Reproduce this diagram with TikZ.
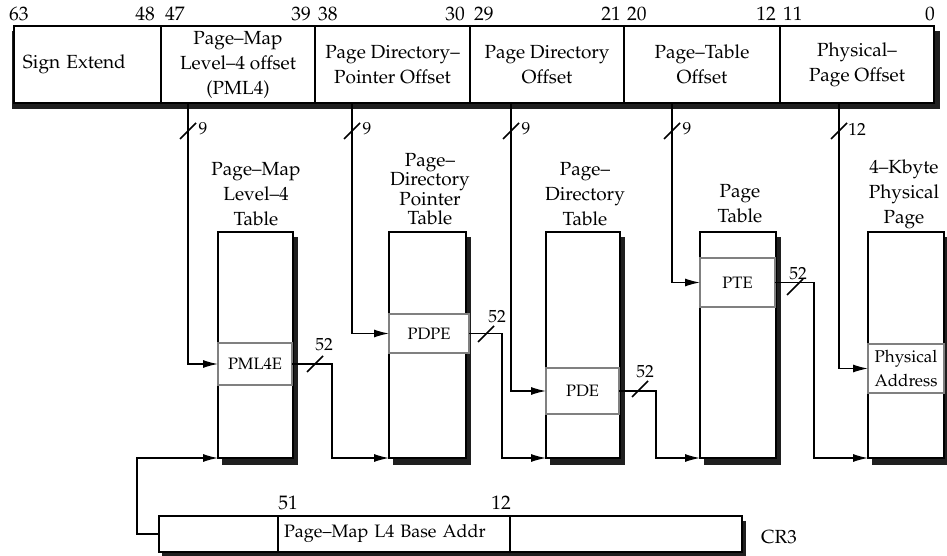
\documentclass[tikz,border=0pt]{standalone}
\usepackage[T1]{fontenc}
\usepackage{mathpazo}
\usetikzlibrary{arrows.meta,backgrounds}
\newcommand\fbig{\fontsize{19}{25}\selectfont}
\newcommand\ftight{\fontsize{19}{19.5}\selectfont}
\newcommand\fent{\fontsize{16.5}{23}\selectfont}
\newcommand\fnum{\fontsize{19.5}{22}\selectfont}
\newcommand\fsmall{\fontsize{17.5}{20}\selectfont}
\newcommand\fphys{\fontsize{17}{24}\selectfont}
\newcommand\faddr{\fontsize{18}{20}\selectfont}
\begin{document}
\begin{tikzpicture}[x=1pt,y=-1pt]
\tikzset{
 fld/.style={draw, line width=1.2pt, fill=white, inner sep=0pt, outer sep=0pt, align=center, font=\fbig},
 tbl/.style={draw, line width=1.3pt, fill=white, inner sep=0pt, outer sep=0pt},
 ent/.style={draw=black!50, line width=1.4pt, fill=white, inner sep=0pt, outer sep=0pt, align=center, font=\fent},
 shd/.style={fill=black!88},
 conn/.style={line width=1.3pt, -{Latex[length=15pt,width=8pt]}},
 slashmark/.style={line width=1.6pt},
 bitnum/.style={font=\fnum, inner sep=0pt},
 lbl/.style={font=\fsmall, inner sep=0pt},
 ttl/.style={align=center, font=\fbig, inner sep=0pt},
}
\useasboundingbox (0,0) rectangle (947,556);
% ---- virtual address bar
\node[fld, minimum width=147pt, minimum height=77pt, text width=137pt, align=left] (f0) at (87.5,64.5) {\hspace*{4pt}Sign Extend};
\node[fld, minimum width=154pt, minimum height=77pt] (f1) at (238,64.5) {Page--Map\\Level--4 offset\\(PML4)};
\node[fld, minimum width=155pt, minimum height=77pt] (f2) at (392.5,64.5) {Page Directory--\\Pointer Offset};
\node[fld, minimum width=154pt, minimum height=77pt] (f3) at (547,64.5) {Page Directory\\Offset};
\node[fld, minimum width=156pt, minimum height=77pt] (f4) at (702,64.5) {Page--Table\\Offset};
\node[fld, minimum width=154pt, minimum height=77pt] (f5) at (857,64.5) {Physical--\\Page Offset};
% bit numbers
\node[bitnum, anchor=base west] (b63) at ([shift={(-5,-5)}]f0.north west) {63};
\node[bitnum, anchor=base east] (b48) at ([shift={(-6,-5)}]f0.north east) {48};
\node[bitnum, anchor=base west] (b47) at ([shift={(4,-5)}]f1.north west) {47};
\node[bitnum, anchor=base east] (b39) at ([shift={(-4,-5)}]f1.north east) {39};
\node[bitnum, anchor=base west] (b38) at ([shift={(3,-5)}]f2.north west) {38};
\node[bitnum, anchor=base east] (b30) at ([shift={(-5,-5)}]f2.north east) {30};
\node[bitnum, anchor=base west] (b29) at ([shift={(4,-5)}]f3.north west) {29};
\node[bitnum, anchor=base east] (b21) at ([shift={(-3,-5)}]f3.north east) {21};
\node[bitnum, anchor=base west] (b20) at ([shift={(3,-5)}]f4.north west) {20};
\node[bitnum, anchor=base east] (b12) at ([shift={(-4,-5)}]f4.north east) {12};
\node[bitnum, anchor=base west] (b11) at ([shift={(3,-5)}]f5.north west) {11};
\node[bitnum, anchor=base east] (b0) at ([shift={(1,-5)}]f5.north east) {0};
% ---- tables
\node[tbl, minimum width=75pt, minimum height=226pt] (t1) at (255.5,345) {};
\node[tbl, minimum width=77pt, minimum height=226pt] (t2) at (427.5,345) {};
\node[tbl, minimum width=74pt, minimum height=226pt] (t3) at (583,345) {};
\node[tbl, minimum width=76pt, minimum height=226pt] (t4) at (738,345) {};
\node[tbl, minimum width=76pt, minimum height=226pt] (t5) at (906,345) {};
% titles
\node[ttl] (h1) at (256,194) {Page--Map\\Level--4\\Table};
\node[ttl, font=\ftight] (h2) at (430,189) {Page--\\Directory\\Pointer\\Table};
\node[ttl] (h3) at (585,194) {Page--\\Directory\\Table};
\node[ttl] (h4) at (740,204) {Page\\Table};
\node[ttl] (h5) at (904,194) {4--Kbyte\\Physical\\Page};
% entries
\node[ent, minimum width=74pt, minimum height=42pt] (e1) at (255,364) {PML4E};
\node[ent, minimum width=80pt, minimum height=39pt] (e2) at (429,333.5) {PDPE};
\node[ent, minimum width=73pt, minimum height=46pt] (e3) at (582.5,391) {PDE};
\node[ent, minimum width=75pt, minimum height=49pt] (e4) at (737.5,282.5) {PTE};
\node[ent, minimum width=76pt, minimum height=49pt, font=\fphys, text width=72pt] (e5) at (906,368.5) {Physical\\Address};
% ---- CR3
\node[fld, minimum width=119pt, minimum height=36pt] (c0) at (218.5,534) {};
\node[fld, minimum width=232pt, minimum height=36pt, text width=220pt, align=left, font=\faddr] (c1) at (394,534) {Page--Map L4 Base Addr};
\node[fld, minimum width=232pt, minimum height=36pt] (c2) at (626,534) {};
\node[lbl, font=\fnum] (n51) at ([shift={(10,-13)}]c1.north west) {51};
\node[lbl, font=\fnum] (n12) at ([shift={(-9,-13)}]c1.north east) {12};
\node[font=\fbig, anchor=west, inner sep=0pt] (cr3) at ([shift={(19,3)}]c2.east) {CR3};
% ---- shadows
\begin{scope}[on background layer]
\fill[shd] ([shift={(-2,5)}]f0.north west) rectangle ([shift={(6,6)}]f5.south east);
\foreach \t in {t1,t2,t3,t4,t5}{
  \fill[shd] ([shift={(4,5)}]\t.north west) rectangle ([shift={(5,7)}]\t.south east);
}
\fill[shd] ([shift={(3,5)}]c0.north west) rectangle ([shift={(4,4)}]c2.south east);
\end{scope}
% ---- connectors from the address bar
\draw[conn] (f1.south west) ++(27,0) |- (e1.west);
\draw[conn] (f2.south west) ++(37,0) |- (e2.west);
\draw[conn] (f3.south west) ++(41,0) |- (e3.west);
\draw[conn] (f4.south west) ++(48,0) |- (e4.west);
\draw[conn] (f5.south west) ++(59,0) |- (e5.west);
% slash marks
\draw[slashmark] (180,139) -- (196,123); \node[lbl] (w1) at (203,129) {9};
\draw[slashmark] (344,139) -- (360,123); \node[lbl] (w2) at (367,129) {9};
\draw[slashmark] (503,139) -- (519,123); \node[lbl] (w3) at (526,129) {9};
\draw[slashmark] (664,139) -- (680,123); \node[lbl] (w4) at (687,129) {9};
\draw[slashmark] (831,139) -- (847,123); \node[lbl] (w5) at (857,129) {12};
% ---- connectors between tables
\draw[conn] (e1.east) -- ++(40,0) |- (t2.south west);
\draw[conn] (e2.east) -- ++(33,0) |- (t3.south west);
\draw[conn] (e3.east) -- ++(37,0) |- (t4.south west);
\draw[conn] (e4.east) -- ++(39,0) |- (t5.south west);
\draw[slashmark] (307,372) -- (323,356); \node[lbl] (s1) at (324,345) {52};
\draw[slashmark] (478,342) -- (494,326); \node[lbl] (s2) at (497,317) {52};
\draw[slashmark] (632,397) -- (648,381); \node[lbl] (s3) at (645,372) {52};
\draw[slashmark] (787,295) -- (803,279); \node[lbl] (s4) at (798,274) {52};
% ---- CR3 to PML4 table
\draw[conn] (c0.west) -- ++(-22,0) |- (t1.south west);
\end{tikzpicture}
\end{document}
